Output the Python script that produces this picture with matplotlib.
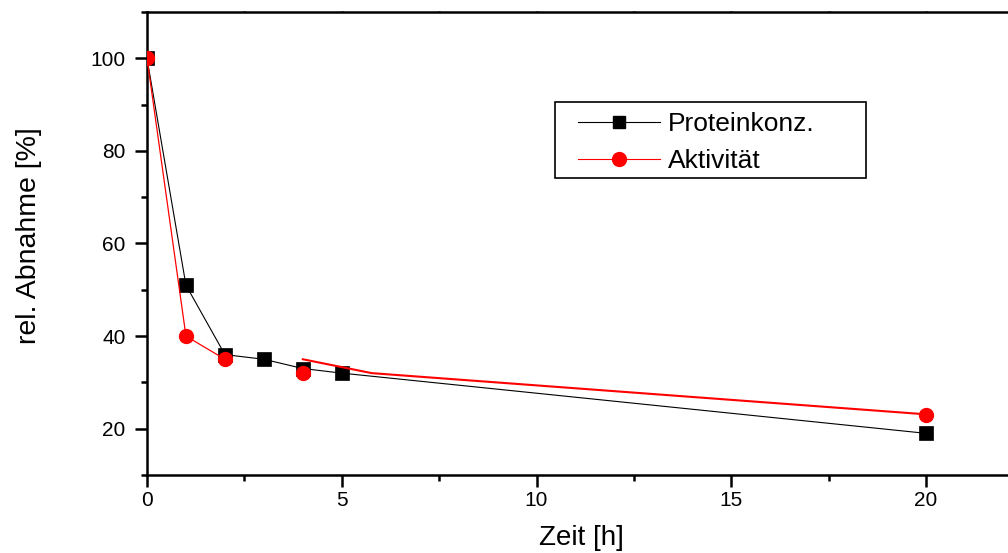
import numpy as np
import matplotlib
matplotlib.use("Agg")
import matplotlib.pyplot as plt
from matplotlib.lines import Line2D
from matplotlib.patches import Rectangle
from matplotlib.ticker import MultipleLocator

plt.rcParams['font.family'] = ['Liberation Sans', 'DejaVu Sans']

# Protein concentration over time
zeit_protein = [0, 1, 2, 3, 4, 5, 20]
protein = [100, 51, 36, 35, 33, 32, 19]

# Enzyme activity over time
zeit_aktiv = [0, 1, 2, 4, 20]
aktiv = [100, 40, 35, 32, 23]

# Connecting path of the activity curve (early phase, then fitted tail)
aktiv_path_x = [0, 1, 2, np.nan, 4.0, 5.77, 20.17]
aktiv_path_y = [100, 40, 35, np.nan, 35, 32, 23]

W, H = 1008, 553
fig = plt.figure(figsize=(W / 100, H / 100), dpi=100)
left, right, top, bottom = 147, 1008, 12, 475
ax = fig.add_axes([left / W, (H - bottom) / H, (right - left) / W, (bottom - top) / H])

ax.plot(zeit_protein, protein, color='black', lw=0.8, marker='s', ms=10,
        mfc='black', mec='black', mew=0.5, zorder=3)
ax.plot(aktiv_path_x[:3], aktiv_path_y[:3], color='red', lw=0.9, zorder=4)
ax.plot(aktiv_path_x[4:], aktiv_path_y[4:], color='red', lw=1.5, zorder=4)
ax.plot(zeit_aktiv, aktiv, ls='none', marker='o', ms=10, mfc='red', mec='red',
        zorder=5)

ax.set_xlim(0, (right - left) / 38.95)
ax.set_ylim(10, 110)
ax.xaxis.set_major_locator(MultipleLocator(5))
ax.xaxis.set_minor_locator(MultipleLocator(2.5))
ax.yaxis.set_minor_locator(MultipleLocator(10))
ax.set_yticks([20, 40, 60, 80, 100])

for s in ['left', 'bottom', 'top']:
    ax.spines[s].set_linewidth(1.8)
ax.spines['right'].set_visible(False)

ax.tick_params(axis='both', which='major', direction='out', length=8.5, width=1.8,
               labelsize=15)
ax.tick_params(axis='both', which='minor', direction='out', length=4.3, width=1.8)
ax.tick_params(axis='y', pad=7)
ax.tick_params(axis='x', pad=3)
ax.tick_params(axis='x', which='both', top=True)
# tiny inward ticks on the top spine
for t in ax.xaxis.get_major_ticks() + ax.xaxis.get_minor_ticks():
    t.tick2line.set_marker(2)
    t.tick2line.set_markersize(1.0)

ax.set_xlabel('Zeit [h]', fontsize=20)
ax.set_ylabel('rel. Abnahme [%]', fontsize=20.5)
ax.xaxis.set_label_coords(0.504, -0.108)
ax.yaxis.set_label_coords(-0.122, 0.516)

# Legend: contents without frame, box drawn separately
handles = [
    Line2D([], [], color='black', lw=0.8, marker='s', ms=9, mfc='black', mec='black'),
    Line2D([], [], color='red', lw=0.8, marker='o', ms=10, mfc='red', mec='red'),
]
leg = ax.legend(handles, ['Proteinkonz.', 'Aktivität'], fontsize=19,
                loc='upper left', bbox_to_anchor=(578 / W, 1 - 112 / H),
                bbox_transform=fig.transFigure, borderaxespad=0, borderpad=0,
                frameon=False, handlelength=3.1, handletextpad=0.3,
                labelspacing=0.5)
fig.add_artist(Rectangle((555 / W, 1 - 178 / H), (866 - 555) / W, (178 - 102) / H,
                         transform=fig.transFigure, fill=False,
                         edgecolor='black', lw=1.2, zorder=6))

fig.savefig('out.png', dpi=100)
